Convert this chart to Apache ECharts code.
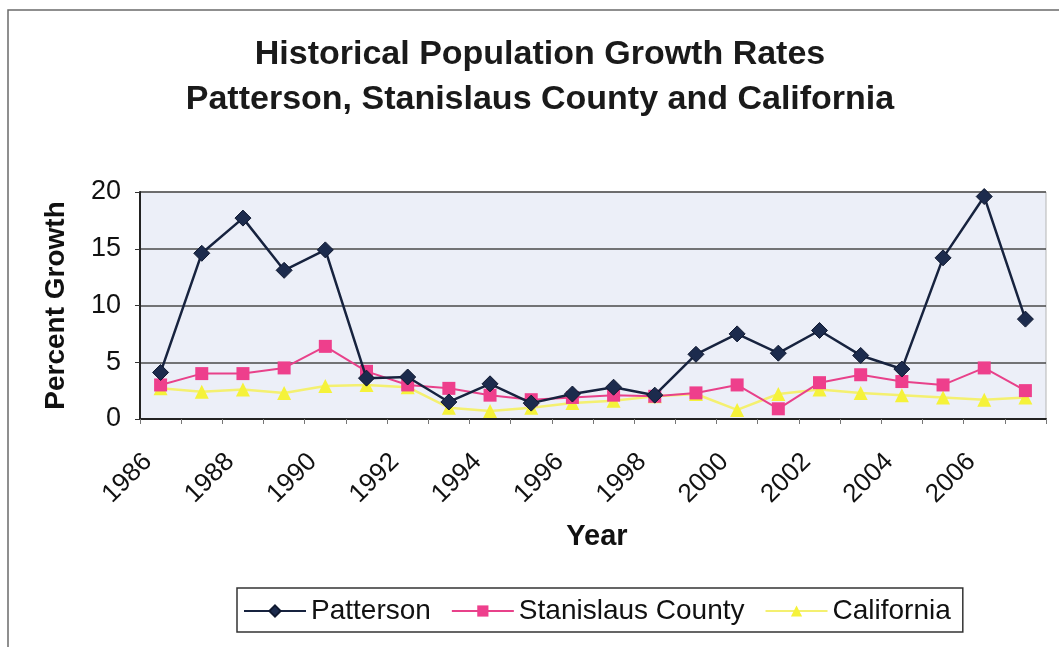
<!DOCTYPE html>
<html>
<head>
<meta charset="utf-8">
<script src="https://cdn.jsdelivr.net/npm/echarts@6/dist/echarts.min.js"></script>
<style>
  html, body { margin: 0; padding: 0; background: #ffffff; }
  #chart { width: 1059px; height: 647px; }
</style>
</head>
<body>
<div id="chart"></div>
<script>
// Annual population growth, percent
const years = ['1986','1987','1988','1989','1990','1991','1992','1993','1994','1995','1996',
               '1997','1998','1999','2000','2001','2002','2003','2004','2005','2006','2007'];
const patterson = [4.1, 14.6, 17.7, 13.1, 14.9, 3.6, 3.7, 1.5, 3.1, 1.4, 2.2,
                   2.8, 2.1, 5.7, 7.5, 5.8, 7.8, 5.6, 4.4, 14.2, 19.6, 8.8];
const stanislaus = [3.0, 4.0, 4.0, 4.5, 6.4, 4.2, 3.0, 2.7, 2.1, 1.7, 1.9,
                    2.1, 2.0, 2.3, 3.0, 0.9, 3.2, 3.9, 3.3, 3.0, 4.5, 2.5];
const california = [2.7, 2.4, 2.6, 2.3, 2.9, 3.0, 2.8, 1.0, 0.7, 1.0, 1.4,
                    1.6, 2.0, 2.2, 0.8, 2.2, 2.6, 2.3, 2.1, 1.9, 1.7, 1.9];
const yTicks = [0, 5, 10, 15, 20];

const font = 'Liberation Sans, Arial, sans-serif';
const chart = echarts.init(document.getElementById('chart'), null, { renderer: 'canvas' });

chart.setOption({
  backgroundColor: '#ffffff',
  animation: false,
  title: {
    text: 'Historical Population Growth Rates\nPatterson, Stanislaus County and California',
    left: 535, top: 27, textAlign: 'center',
    textStyle: { fontFamily: font, fontSize: 34, fontWeight: 'bold', color: '#1a1a1a', lineHeight: 45 }
  },
  graphic: [{
    type: 'rect', shape: { x: 8, y: 10, width: 1060, height: 640 },
    style: { fill: 'none', stroke: '#6b6b6b', lineWidth: 1.5 }, silent: true
  }],
  legend: {
    left: 237, top: 588,
    itemWidth: 62, itemHeight: 14, itemGap: 20,
    padding: [9, 12, 7, 6],
    borderColor: '#333333', borderWidth: 1.5,
    textStyle: { fontFamily: font, fontSize: 28, color: '#111111' },
    data: ['Patterson', 'Stanislaus County', 'California']
  },
  grid: {
    left: 140, right: 13, top: 192, bottom: 228,
    show: true, backgroundColor: '#eceff8', borderColor: '#b5b5b5', borderWidth: 1
  },
  xAxis: {
    type: 'category', data: years, boundaryGap: true,
    name: 'Year', nameLocation: 'middle', nameGap: 103,
    nameTextStyle: { fontFamily: font, fontSize: 29, fontWeight: 'bold', color: '#111', padding: [0, 0, 0, 8] },
    axisLine: { lineStyle: { color: '#222', width: 2 } },
    axisTick: { show: true, interval: 0, length: 5, lineStyle: { color: '#777' } },
    axisLabel: {
      interval: 1, rotate: 45, margin: 26, padding: [0, 18, 0, 0],
      fontFamily: font, fontSize: 26, color: '#111'
    },
    splitLine: { show: false }
  },
  yAxis: {
    type: 'value', min: 0, max: 20, interval: 5,
    name: 'Percent Growth', nameLocation: 'middle', nameGap: 70, nameRotate: 90,
    nameTextStyle: { fontFamily: font, fontSize: 28, fontWeight: 'bold', color: '#111' },
    axisLine: { show: true, lineStyle: { color: '#222', width: 2 } },
    axisTick: { show: true, length: 5, lineStyle: { color: '#333' } },
    axisLabel: {
      fontFamily: font, fontSize: 27, color: '#111', margin: 19,
      formatter: v => yTicks.includes(v) ? String(v) : ''
    },
    splitLine: { show: true, lineStyle: { color: '#4a4a4a', width: 1.5 } }
  },
  series: [
    {
      name: 'Patterson', type: 'line', data: patterson,
      symbol: 'diamond', symbolSize: 16,
      lineStyle: { color: '#17233f', width: 2.5 },
      itemStyle: { color: '#1c2b4d', borderColor: '#0f1830', borderWidth: 1 },
      z: 4
    },
    {
      name: 'Stanislaus County', type: 'line', data: stanislaus,
      symbol: 'rect', symbolSize: 13,
      lineStyle: { color: '#e8418a', width: 2 },
      itemStyle: { color: '#ee3f8c' },
      z: 3
    },
    {
      name: 'California', type: 'line', data: california,
      symbol: 'triangle', symbolSize: 14,
      lineStyle: { color: '#f4f070', width: 2.5 },
      itemStyle: { color: '#f5f23a' },
      z: 2
    }
  ]
});
</script>
</body>
</html>
